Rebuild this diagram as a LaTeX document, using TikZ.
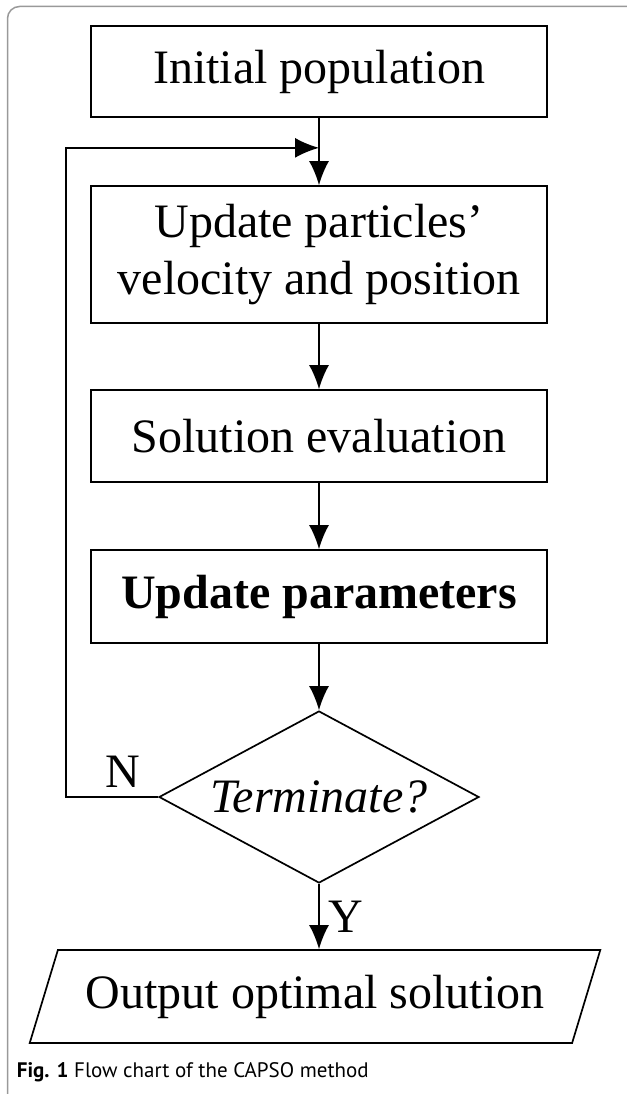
\documentclass[tikz,border=0pt]{standalone}
\usepackage{fontspec}
\setmainfont{Liberation Serif}
\newfontfamily\capfont{PT Sans}
\usetikzlibrary{arrows.meta,shapes.geometric}
\usetikzlibrary{positioning}
\tikzset{>={Latex[length=24pt,width=20pt]}}
\definecolor{framegray}{gray}{0.6}

\begin{document}
\begin{tikzpicture}[x=1pt, y=1pt, line width=1.7pt,
	box/.style={draw, rectangle, minimum width=456pt, inner sep=0pt, align=center, font=\fontsize{48}{57}\selectfont},
	decision/.style={draw, diamond, aspect=1.88, inner sep=0pt, minimum width=320pt, minimum height=172pt, font=\fontsize{48}{57}\selectfont\itshape},
	io/.style={draw, trapezium, trapezium left angle=60, trapezium right angle=120, trapezium stretches=true, minimum width=574pt, minimum height=93pt, inner sep=0pt, font=\fontsize{48}{57}\selectfont},
	lbl/.style={font=\fontsize{48}{57}\selectfont, inner sep=9pt},
	node distance=1cm, on grid, auto]
		\useasboundingbox (0,0) rectangle (626,-1094);
		\draw[framegray, line width=1.5pt, rounded corners=12pt] (7.5,-1110) -- (7.5,-6.5) -- (640,-6.5);
		\node[box, minimum height=91pt] (init) at (319,-71.5) {Initial population};
		\node[box, minimum height=137pt] (upd) [below=183pt of init] {Update particles'\\velocity and position};
		\node[box, minimum height=92pt] (eval) [below=181.5pt of upd] {Solution evaluation};
		\node[box, minimum height=93pt] (param) [below=160.5pt of eval] {\bfseries Update parameters};
		\node[decision] (dec) [below=200.5pt of param] {Terminate?};
		\node[io] (out) [below=199.5pt of dec, xshift=-4pt] {Output optimal solution};
		\coordinate[below=30pt of init.south] (merge);
		\path[->]
			(init) edge node {} (upd)
			(upd) edge node {} (eval)
			(eval) edge node {} (param)
			(param) edge node {} (dec);
		\draw[->] (dec.south) -- node[lbl, right] {Y} (dec.south |- out.north);
		\draw[->] (dec.west) -- node[lbl, above, pos=0.38] {N} ++(-92,0) |- (merge);
		\node[anchor=west, inner sep=0pt, font=\capfont\fontsize{21}{25}\selectfont] (cap) at (16,-1072) {\textbf{Fig. 1} Flow chart of the CAPSO method};
	\end{tikzpicture}
\end{document}
